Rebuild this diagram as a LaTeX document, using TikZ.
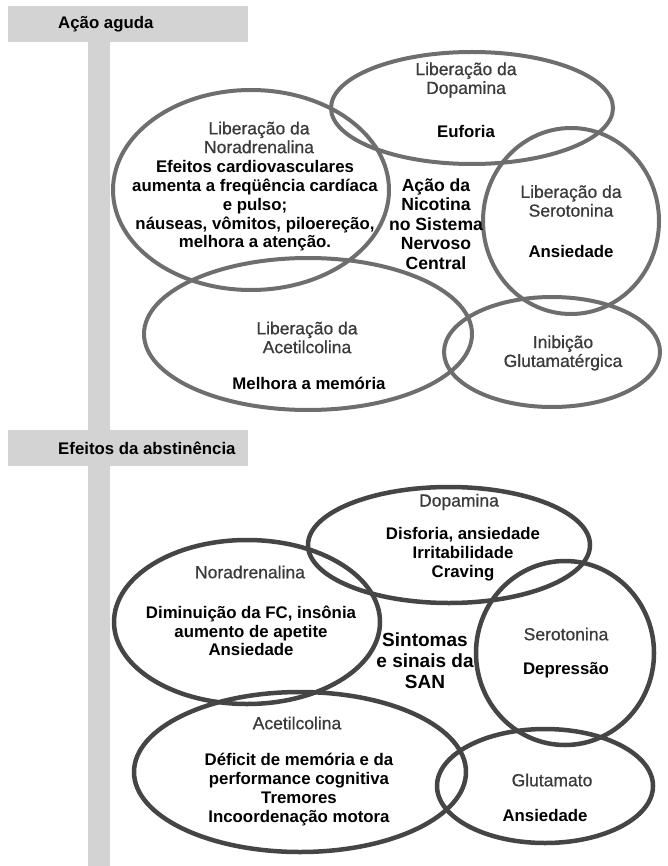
\documentclass[tikz,border=0pt]{standalone}
\usepackage{fontspec}
\setmainfont{Liberation Sans}
\newfontfamily\ttlfont[FakeBold=0.7]{Liberation Sans}
\usetikzlibrary{shapes.geometric}
\definecolor{hdr}{HTML}{D3D3D3}
\definecolor{ringA}{HTML}{6E6E6E}
\definecolor{ringB}{HTML}{454545}
\definecolor{ttlc}{HTML}{3A3A3A}
\begin{document}
\begin{tikzpicture}[x=1pt,y=-1pt,
  ringtop/.style={ellipse, draw=ringA, line width=4pt, inner sep=0pt},
  ringbot/.style={ellipse, draw=ringB, line width=4.5pt, inner sep=0pt},
  body/.style={font=\fontsize{16.8}{18.8}\selectfont\bfseries, align=center, inner sep=0pt, text=black},
  ttl/.style={font=\ttlfont\fontsize{17.5}{18.8}\selectfont, align=center, inner sep=0pt, text=ttlc},
  center/.style={font=\fontsize{17.6}{19.6}\selectfont\bfseries, align=center, inner sep=0pt},
  hdrtext/.style={font=\fontsize{16.8}{19}\selectfont\bfseries, anchor=west, inner sep=0pt},
  bar/.style={fill=hdr, draw=none}]
\useasboundingbox (0,0) rectangle (667,866);
\fill[white] (0,0) rectangle (667,866);
% timeline bar and headers
\path[bar] (88,42) rectangle (110,866);
\path[bar] (8,6) rectangle (248,42);
\path[bar] (8,430) rectangle (248,466);
\node[hdrtext] (h1) at (58,24) {Ação aguda};
\node[hdrtext] (h2) at (58,448) {Efeitos da abstinência};
% ---- top section
\node[ringtop, minimum width=282pt, minimum height=112pt] (dopA) at (472,108) {};
\node[ringtop, minimum width=276pt, minimum height=200pt] (norA) at (251,190) {};
\node[ringtop, minimum width=176pt, minimum height=186pt] (serA) at (571,221) {};
\node[ringtop, minimum width=328pt, minimum height=152pt] (aceA) at (308,334) {};
\node[ringtop, minimum width=216pt, minimum height=110pt] (gluA) at (552,352) {};
\node[ttl] (dopAt) at (466,80) {Liberação da\\Dopamina};
\node[body] (dopAb) at (466,131) {Euforia};
\node[ttl] (norAt) at (259,137.5) {Liberação da\\Noradrenalina};
\node[body] (norAb) at (255,206) {Efeitos cardiovasculares\\aumenta a freqüência cardíaca\\e pulso;\\náuseas, vômitos, piloereção,\\melhora a atenção.};
\node[center] (midA) at (436,224) {Ação da\\Nicotina\\no Sistema\\Nervoso\\Central};
\node[ttl] (serAt) at (571,201) {Liberação da\\Serotonina};
\node[body] (serAb) at (571,251) {Ansiedade};
\node[ttl] (aceAt) at (307,337.5) {Liberação da\\Acetilcolina};
\node[body] (aceAb) at (309,383) {Melhora a memória};
\node[ttl] (gluAt) at (563,353) {Inibição\\Glutamatérgica};
% ---- bottom section
\node[ringbot, minimum width=282pt, minimum height=116pt] (dopB) at (449,545) {};
\node[ringbot, minimum width=266pt, minimum height=164pt] (norB) at (247,622) {};
\node[ringbot, minimum width=178pt, minimum height=184pt] (serB) at (565,653) {};
\node[ringbot, minimum width=332pt, minimum height=160pt] (aceB) at (300,772) {};
\node[ringbot, minimum width=216pt, minimum height=114pt] (gluB) at (545,786) {};
\node[ttl] (dopBt) at (459,502) {Dopamina};
\node[body] (dopBb) at (463,554) {Disforia, ansiedade\\Irritabilidade\\Craving};
\node[ttl] (norBt) at (250,572) {Noradrenalina};
\node[body] (norBb) at (251,631) {Diminuição da FC, insônia\\aumento de apetite\\Ansiedade};
\node[center, font=\fontsize{19}{21}\selectfont\bfseries] (midB) at (425,661) {Sintomas\\e sinais da\\SAN};
\node[ttl] (serBt) at (566,634) {Serotonina};
\node[body] (serBb) at (566,670) {Depressão};
\node[ttl] (aceBt) at (297,723) {Acetilcolina};
\node[body] (aceBb) at (299,789.5) {Déficit de memória e da\\performance cognitiva\\Tremores\\Incoordenação motora};
\node[ttl] (gluBt) at (552,780) {Glutamato};
\node[body] (gluBb) at (545,815) {Ansiedade};
\end{tikzpicture}
\end{document}
